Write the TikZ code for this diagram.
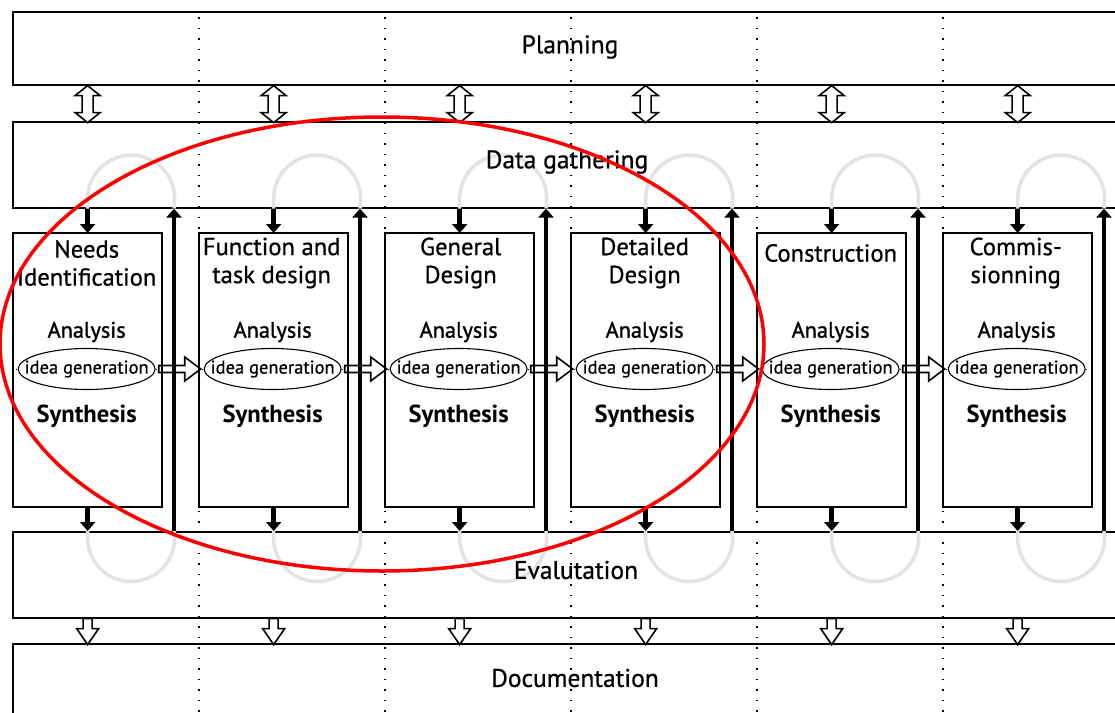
\documentclass[tikz,border=0pt]{standalone}
\usepackage{fontspec}
\setmainfont{PT Sans}
\newfontfamily\medfont[FakeBold=0.7]{PT Sans}
\newfontfamily\semifont[FakeBold=1.3]{PT Sans}
\usetikzlibrary{arrows.meta,shapes.geometric,calc}
\begin{document}
\begin{tikzpicture}[x=1pt,y=-1pt,
  band/.style={draw, line width=1.6pt, inner sep=0pt, anchor=north west},
  stage/.style={draw, line width=1.3pt, minimum width=148, minimum height=273, inner sep=0pt},
  idea/.style={draw, ellipse, line width=1.1pt, minimum width=137, minimum height=41, inner sep=0pt},
  idealbl/.style={font=\medfont\fontsize{18.5}{20}\selectfont, inner sep=0pt},
  bandlbl/.style={font=\medfont\fontsize{25.5}{28}\selectfont, inner sep=0pt},
  title/.style={font=\medfont\fontsize{24.6}{28}\selectfont, align=center, inner sep=0pt},
  ana/.style={font=\semifont\fontsize{22.3}{24}\selectfont, inner sep=0pt},
  syn/.style={font=\bfseries\fontsize{24.6}{26}\selectfont, inner sep=0pt},
  blk/.style={line width=4.5pt, -{Triangle[width=15pt,length=9pt]}},
  hol/.style={draw, line width=1.6pt, line join=miter},
  dotline/.style={line width=1.9pt, dash pattern=on 1.9pt off 8.6pt},
  grayloop/.style={draw=black!11, line width=3.5pt},
  dblarrow/.pic={\draw[hol, fill=white] (0,0) -- (12.5,10) -- (5.5,10) -- (5.5,27) -- (12.5,27) -- (0,37) -- (-12.5,27) -- (-5.5,27) -- (-5.5,10) -- (-12.5,10) -- cycle;},
  downhol/.pic={\draw[hol, fill=white] (-4.5,0) -- (-4.5,10) -- (-11,10) -- (0,26) -- (11,10) -- (4.5,10) -- (4.5,0) -- cycle;}
]
\useasboundingbox (0,0) rectangle (1115,712);
\fill[white] (0,0) rectangle (1115,712);
\clip (0,0) rectangle (1115,712);

% bands
\node[band, minimum width=1118, minimum height=73] (plan) at (12,11) {};
\node[band, minimum width=1118, minimum height=86] (data) at (12,121) {};
\node[band, minimum width=1118, minimum height=86] (eval) at (12,531) {};
\node[band, minimum width=1118, minimum height=80] (doc) at (12,643) {};

% stages
\foreach \i in {1,...,6} {
  \node[stage, anchor=north west] (s\i) at ({13+186*(\i-1)},233) {};
  \coordinate (u\i) at ({13+186*(\i-1)+161},0);
}

% gray loops
\foreach \i in {1,...,6} {
  \draw[grayloop] (s\i.north |- data.south) -- ++(0,-10) arc[start angle=180,end angle=360,radius=43.5] -- (u\i |- data.south);
  \draw[grayloop] (s\i.south |- eval.north) -- ++(0,7) arc[start angle=180,end angle=0,radius=43.5] -- (u\i |- eval.north);
}

% dotted verticals
\foreach \i in {2,...,6} {
  \draw[dotline] (s\i.north west |- 0,17) -- (s\i.north west |- 0,712);
}

% redraw stage boxes on top of dots
\foreach \i in {1,...,6} {
  \draw[line width=1.3pt] (s\i.north west) rectangle (s\i.south east);
}

% band labels
\node[bandlbl] (lplan) at (570,47) {Planning};
\node[bandlbl] (ldata) at (567,162) {Data gathering};
\node[bandlbl] (leval) at (576,570) {Evalutation};
\node[bandlbl] (ldoc) at (575,678) {Documentation};

% titles
\node[title] (t1) at ($(s1.north)+(-1,30)$) {Needs\\Identification};
\node[title] (t2) at ($(s2.north)+(-2,30)$) {Function and\\task design};
\node[title] (t3) at ($(s3.north)+(1,30)$) {General\\Design};
\node[title] (t4) at ($(s4.north)+(-1,30)$) {Detailed\\Design};
\node[title] (t5) at ($(s5.north)+(-1,20)$) {Construction};
\node[title] (t6) at ($(s6.north)+(-2,30)$) {Commis-\\sionning};

\foreach \i in {1,...,6} {
  \node[ana] (a\i) at ($(s\i.north)+(-1,99)$) {Analysis};
  \node[idea] (e\i) at ($(s\i.north)+(-1,136)$) {};
  \node[idealbl] (g\i) at (e\i.center) {idea generation};
  \node[syn] (y\i) at ($(s\i.north)+(-1,183)$) {Synthesis};
  \draw[dotted, line width=1pt] (s\i.west |- e\i) -- (e\i.west);
  \draw[dotted, line width=1pt] (e\i.east) -- ++(3,0);
  % black arrows
  \draw[blk] (s\i.north |- data.south) -- (s\i.north);
  \draw[blk] (s\i.south) -- (s\i.south |- eval.north);
  \draw[blk] (u\i |- eval.north) -- (u\i |- data.south);
  % hollow arrows between bands
  \pic at (s\i.north |- plan.south) {dblarrow};
  \pic at (s\i.south |- eval.south) {downhol};
}

% horizontal hollow arrows
\foreach \i in {1,...,5} {
  \draw[hol] ($(e\i.east)+(3,-3.5)$) -- ++(26,0) -- ++(0,-8.5) -- ++(16,12) -- ++(-16,12) -- ++(0,-8.5) -- ++(-26,0) -- cycle;
}

% red ellipse
\draw[red, line width=3.5pt] (382,344) ellipse[x radius=382, y radius=227];
\end{tikzpicture}
\end{document}
